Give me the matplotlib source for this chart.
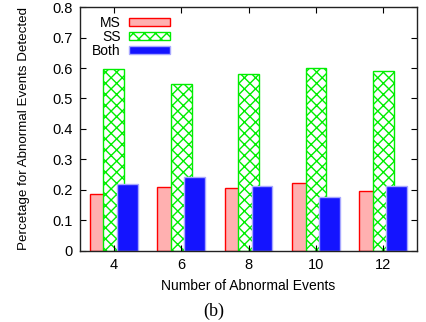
import matplotlib
matplotlib.use('Agg')
import matplotlib.pyplot as plt
import numpy as np

events = [4, 6, 8, 10, 12]
ms = [0.188, 0.208, 0.205, 0.223, 0.198]
ss = [0.596, 0.549, 0.582, 0.601, 0.589]
both = [0.219, 0.242, 0.212, 0.177, 0.212]

plt.rcParams['font.family'] = ['Liberation Sans', 'DejaVu Sans']
plt.rcParams['hatch.linewidth'] = 1.0

fig = plt.figure(figsize=(4.27, 3.22), dpi=100)
ax = fig.add_axes([0.187, 0.221, 0.79, 0.757])

x = np.array(events, dtype=float)
w = 0.62
ax.bar(x - 0.4, ms, width=w, color='#ffb0b0', edgecolor='#ff0000', linewidth=1.0, label='MS')
ax.bar(x, ss, width=w, color='white', edgecolor='#00ee00', hatch='xxx', linewidth=1.0, label='SS')
ax.bar(x + 0.4, both, width=w, color='#1414ff', edgecolor='#a8a8ff', linewidth=1.0, label='Both')

ax.set_xlim(3, 13)
ax.set_ylim(0, 0.8)
ax.set_xticks(events)
ax.set_yticks(np.arange(0, 0.81, 0.1))
ax.set_yticklabels(['0', '0.1', '0.2', '0.3', '0.4', '0.5', '0.6', '0.7', '0.8'])
ax.tick_params(direction='in', top=True, right=True, labelsize=10.5, length=4, width=0.8, pad=5)
for s in ax.spines.values():
    s.set_linewidth(1.0)
    s.set_color('#222222')

ax.set_xlabel('Number of Abnormal Events', fontsize=10, labelpad=5)
ax.set_ylabel('Percetage for Abnormal Events Detected', fontsize=9.6, labelpad=16)

leg = ax.legend(loc='upper left', bbox_to_anchor=(0.0, 1.016), markerfirst=False, frameon=False,
                fontsize=10, handlelength=2.95, handleheight=0.5, labelspacing=0.0, handletextpad=0.6)
for t in leg.get_texts():
    t.set_ha('right')

fig.text(0.5, 0.02, '(b)', family='Liberation Serif', fontsize=13, ha='center')

fig.savefig('out.png', dpi=100)
